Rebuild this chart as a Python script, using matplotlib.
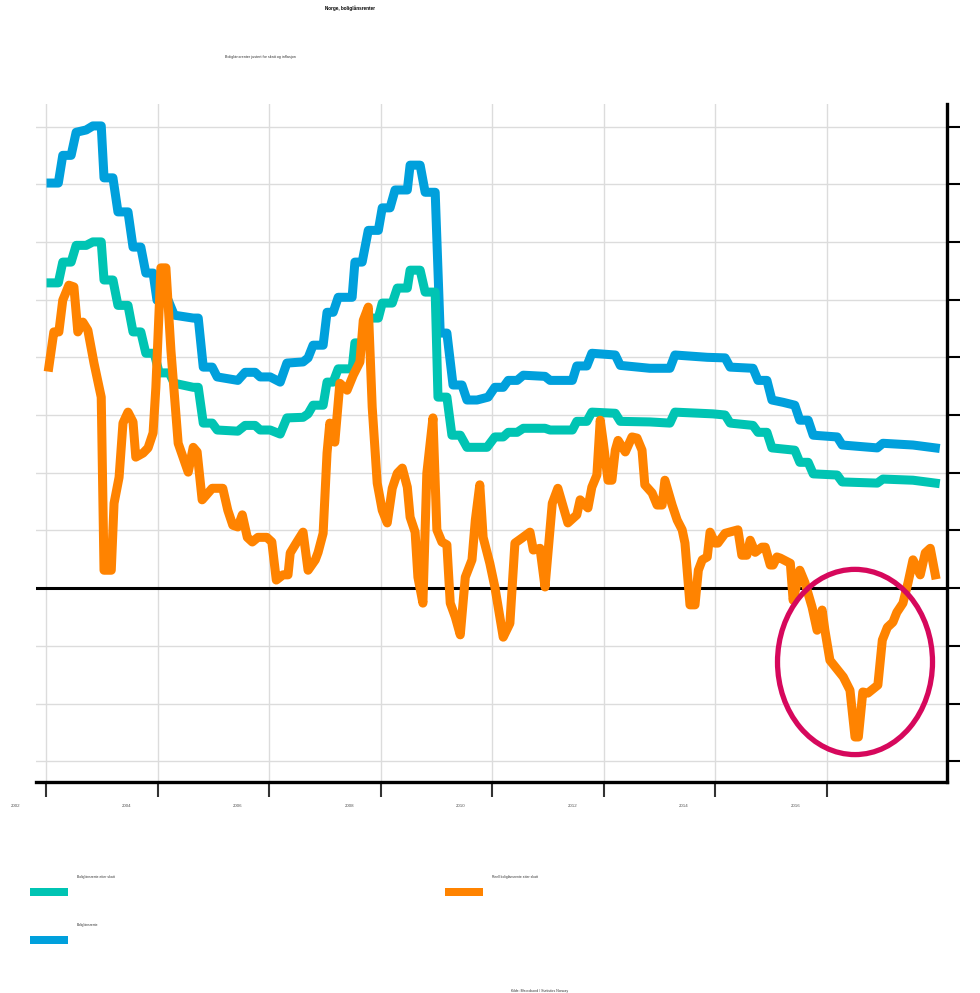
import numpy as np
import matplotlib
matplotlib.use("Agg")
from matplotlib import pyplot as plt
from matplotlib.patches import Ellipse, Rectangle
from matplotlib.transforms import ScaledTranslation

plt.rcParams['font.family'] = ['Liberation Sans', 'DejaVu Sans']

# Boliglånsrente (nominell), prosent
blue_t = [2002.09, 2002.22, 2002.30, 2002.45, 2002.54, 2002.72, 2002.84, 2002.99,
          2003.04, 2003.20, 2003.29, 2003.47, 2003.56, 2003.70, 2003.79, 2003.92,
          2003.99, 2004.19, 2004.30, 2004.64, 2004.73, 2004.82, 2004.98, 2005.07,
          2005.44, 2005.57, 2005.75, 2005.84, 2006.02, 2006.20, 2006.32, 2006.61,
          2006.70, 2006.79, 2006.97, 2007.04, 2007.15, 2007.24, 2007.49, 2007.54,
          2007.67, 2007.78, 2007.96, 2008.03, 2008.17, 2008.26, 2008.48, 2008.53,
          2008.71, 2008.80, 2008.98, 2009.07, 2009.19, 2009.30, 2009.46, 2009.55,
          2009.73, 2009.93, 2010.05, 2010.20, 2010.29, 2010.45, 2010.56, 2010.95,
          2011.04, 2011.44, 2011.52, 2011.70, 2011.79, 2012.21, 2012.30, 2012.83,
          2013.19, 2013.28, 2013.86, 2014.18, 2014.27, 2014.68, 2014.77, 2014.93,
          2015.02, 2015.22, 2015.43, 2015.52, 2015.67, 2015.76, 2016.19, 2016.28,
          2016.91, 2017.01, 2017.55, 2017.95]
blue_v = [7.02, 7.02, 7.50, 7.50, 7.90, 7.94, 8.01, 8.01,
          7.11, 7.11, 6.52, 6.52, 5.91, 5.91, 5.46, 5.46,
          4.99, 4.99, 4.73, 4.68, 4.68, 3.83, 3.83, 3.66,
          3.60, 3.74, 3.74, 3.66, 3.66, 3.57, 3.90, 3.92,
          3.99, 4.21, 4.21, 4.78, 4.78, 5.04, 5.04, 5.65,
          5.65, 6.20, 6.20, 6.59, 6.59, 6.90, 6.90, 7.33,
          7.33, 6.86, 6.86, 4.42, 4.42, 3.52, 3.52, 3.26,
          3.26, 3.31, 3.48, 3.48, 3.60, 3.60, 3.69, 3.67,
          3.60, 3.60, 3.85, 3.85, 4.07, 4.04, 3.86, 3.81,
          3.81, 4.04, 4.00, 3.99, 3.83, 3.81, 3.60, 3.60,
          3.26, 3.22, 3.17, 2.91, 2.91, 2.65, 2.62, 2.48,
          2.43, 2.51, 2.48, 2.43]

# Boliglånsrente etter skatt
teal_t = [2002.09, 2002.22, 2002.30, 2002.45, 2002.54, 2002.72, 2002.84, 2002.99,
          2003.04, 2003.20, 2003.29, 2003.47, 2003.56, 2003.70, 2003.79, 2003.94,
          2004.03, 2004.21, 2004.30, 2004.64, 2004.73, 2004.82, 2004.98, 2005.07,
          2005.44, 2005.57, 2005.75, 2005.84, 2006.02, 2006.20, 2006.32, 2006.61,
          2006.70, 2006.79, 2006.97, 2007.04, 2007.15, 2007.24, 2007.49, 2007.54,
          2007.69, 2007.78, 2007.96, 2008.03, 2008.21, 2008.30, 2008.48, 2008.53,
          2008.71, 2008.80, 2008.98, 2009.03, 2009.19, 2009.28, 2009.43, 2009.55,
          2009.91, 2010.05, 2010.20, 2010.29, 2010.45, 2010.56, 2010.95, 2011.04,
          2011.44, 2011.52, 2011.70, 2011.79, 2012.21, 2012.30, 2012.83, 2013.19,
          2013.28, 2013.96, 2014.18, 2014.27, 2014.68, 2014.77, 2014.93, 2015.02,
          2015.43, 2015.52, 2015.67, 2015.76, 2016.19, 2016.28, 2016.91, 2017.01,
          2017.55, 2017.95]
teal_v = [5.29, 5.29, 5.65, 5.65, 5.94, 5.94, 6.00, 6.00,
          5.34, 5.34, 4.90, 4.90, 4.44, 4.44, 4.07, 4.07,
          3.73, 3.73, 3.55, 3.48, 3.48, 2.86, 2.86, 2.74,
          2.72, 2.82, 2.82, 2.74, 2.74, 2.67, 2.95, 2.96,
          3.02, 3.17, 3.17, 3.57, 3.57, 3.80, 3.80, 4.25,
          4.25, 4.68, 4.68, 4.94, 4.94, 5.20, 5.20, 5.51,
          5.51, 5.13, 5.13, 3.31, 3.31, 2.65, 2.65, 2.44,
          2.44, 2.62, 2.62, 2.70, 2.70, 2.77, 2.77, 2.74,
          2.74, 2.89, 2.89, 3.05, 3.03, 2.89, 2.88, 2.86,
          3.05, 3.02, 3.00, 2.86, 2.82, 2.70, 2.70, 2.43,
          2.39, 2.18, 2.18, 1.98, 1.96, 1.84, 1.82, 1.89,
          1.87, 1.82]

# Reell boliglånsrente etter skatt
orange_t = [2002.05, 2002.14, 2002.23, 2002.30, 2002.41, 2002.50, 2002.57, 2002.66,
            2002.75, 2002.86, 2002.99, 2003.04, 2003.17, 2003.22, 2003.31, 2003.38,
            2003.47, 2003.56, 2003.61, 2003.74, 2003.83, 2003.92, 2003.97, 2004.06,
            2004.15, 2004.24, 2004.37, 2004.55, 2004.64, 2004.71, 2004.80, 2004.98,
            2005.17, 2005.26, 2005.35, 2005.44, 2005.52, 2005.61, 2005.70, 2005.80,
            2005.96, 2006.05, 2006.13, 2006.25, 2006.34, 2006.38, 2006.50, 2006.61,
            2006.70, 2006.83, 2006.88, 2006.97, 2007.04, 2007.09, 2007.18, 2007.27,
            2007.40, 2007.51, 2007.63, 2007.69, 2007.78, 2007.85, 2007.94, 2008.03,
            2008.12, 2008.21, 2008.30, 2008.39, 2008.48, 2008.53, 2008.62, 2008.67,
            2008.76, 2008.83, 2008.94, 2009.01, 2009.10, 2009.19, 2009.25, 2009.34,
            2009.43, 2009.52, 2009.64, 2009.70, 2009.78, 2009.84, 2009.96, 2010.05,
            2010.20, 2010.32, 2010.41, 2010.54, 2010.68, 2010.74, 2010.86, 2010.95,
            2011.08, 2011.18, 2011.36, 2011.52, 2011.58, 2011.72, 2011.79, 2011.88,
            2011.94, 2011.99, 2012.08, 2012.15, 2012.21, 2012.26, 2012.39, 2012.51,
            2012.60, 2012.69, 2012.74, 2012.87, 2012.96, 2013.05, 2013.10, 2013.23,
            2013.32, 2013.41, 2013.46, 2013.55, 2013.64, 2013.70, 2013.77, 2013.86,
            2013.91, 2014.00, 2014.05, 2014.18, 2014.41, 2014.48, 2014.57, 2014.63,
            2014.72, 2014.84, 2014.90, 2014.99, 2015.04, 2015.11, 2015.17, 2015.35,
            2015.40, 2015.52, 2015.61, 2015.74, 2015.83, 2015.92, 2015.97, 2016.06,
            2016.30, 2016.42, 2016.51, 2016.57, 2016.65, 2016.74, 2016.92, 2017.00,
            2017.09, 2017.19, 2017.26, 2017.37, 2017.46, 2017.55, 2017.68, 2017.77,
            2017.86, 2017.95]
orange_v = [3.83, 4.44, 4.44, 4.99, 5.25, 5.22, 4.44, 4.61,
            4.47, 3.90, 3.31, 0.31, 0.31, 1.47, 1.92, 2.86,
            3.05, 2.88, 2.27, 2.34, 2.43, 2.69, 3.48, 5.55,
            5.55, 4.12, 2.51, 2.01, 2.44, 2.36, 1.53, 1.73,
            1.73, 1.35, 1.09, 1.06, 1.27, 0.88, 0.80, 0.88,
            0.88, 0.80, 0.14, 0.23, 0.23, 0.61, 0.80, 0.97,
            0.31, 0.49, 0.62, 0.95, 2.34, 2.86, 2.53, 3.55,
            3.43, 3.69, 3.92, 4.64, 4.87, 3.14, 1.82, 1.35,
            1.13, 1.73, 1.99, 2.08, 1.75, 1.23, 0.97, 0.19,
            -0.26, 1.99, 2.95, 1.01, 0.80, 0.75, -0.26, -0.50,
            -0.81, 0.19, 0.49, 1.18, 1.79, 0.88, 0.43, 0.02,
            -0.85, -0.61, 0.78, 0.87, 0.97, 0.66, 0.69, 0.02,
            1.47, 1.73, 1.13, 1.27, 1.53, 1.39, 1.75, 1.96,
            2.91, 2.56, 1.87, 1.87, 2.39, 2.56, 2.36, 2.62,
            2.60, 2.39, 1.79, 1.65, 1.44, 1.44, 1.87, 1.44,
            1.18, 1.01, 0.78, -0.29, -0.29, 0.31, 0.49, 0.54,
            0.97, 0.78, 0.78, 0.95, 1.01, 0.57, 0.57, 0.83,
            0.62, 0.71, 0.71, 0.40, 0.40, 0.54, 0.52, 0.43,
            -0.21, 0.31, 0.10, -0.33, -0.73, -0.38, -0.73, -1.25,
            -1.54, -1.77, -2.58, -2.58, -1.80, -1.82, -1.68, -0.90,
            -0.68, -0.59, -0.42, -0.26, 0.09, 0.49, 0.23, 0.61,
            0.69, 0.23]

year_ticks = [2002, 2004, 2006, 2008, 2010, 2012, 2014, 2016]
y_ticks = list(range(-3, 9))

BLUE = '#00a0dc'
TEAL = '#00c4b3'
ORANGE = '#ff8300'
RING = '#d6085c'

fig = plt.figure(figsize=(9.8, 9.93), dpi=100)
ax = fig.add_axes([36 / 980, 1 - 782 / 993, 911 / 980, 678 / 993])

ax.set_xlim(2001.82, 2018.16)
ax.set_ylim(-3.36, 8.39)

# grid
for yv in y_ticks:
    ax.axhline(yv, color='#dcdcdc', lw=1.0, zorder=0)
for xv in year_ticks:
    ax.axvline(xv, color='#dcdcdc', lw=1.0, zorder=0)
ax.axhline(0, color='black', lw=2.2, zorder=1)

ax.plot(blue_t, blue_v, color=BLUE, lw=6.5, solid_joinstyle='round', zorder=3)
ax.plot(teal_t, teal_v, color=TEAL, lw=6.5, solid_joinstyle='round', zorder=4)
ax.plot(orange_t, orange_v, color=ORANGE, lw=6.5, solid_joinstyle='round', zorder=5)

ax.add_patch(Ellipse((2016.51, -1.28), 2.78, 3.21, fill=False,
                     edgecolor=RING, lw=3.8, zorder=6))

for side in ('left', 'top'):
    ax.spines[side].set_visible(False)
ax.spines['right'].set_linewidth(2.4)
ax.spines['bottom'].set_linewidth(2.4)

ax.yaxis.tick_right()
ax.set_yticks(y_ticks)
ax.tick_params(axis='y', which='both', direction='out', length=9.5, width=1.5,
               color='black', labelright=False, labelleft=False)

ax.set_xticks(year_ticks)
ax.set_xticklabels([str(y) for y in year_ticks], fontsize=3.2, color='#555555')
ax.tick_params(axis='x', direction='out', length=10.5, width=1.5, color='#333333', pad=5)
shift = ScaledTranslation(-0.31, 0, fig.dpi_scale_trans)
for lbl in ax.get_xticklabels():
    lbl.set_transform(lbl.get_transform() + shift)

# titles
fig.text(350 / 980, 1 - 8 / 993, 'Norge, boliglånsrenter', fontsize=3.3,
         fontweight='bold', ha='center', va='center')
fig.text(260 / 980, 1 - 57 / 993, 'Boliglånsrenter justert for skatt og inflasjon',
         fontsize=2.7, ha='center', va='center', color='#333333')

# legend
legend_items = [
    (30, 888, TEAL, 'Boliglånsrente etter skatt'),
    (30, 936, BLUE, 'Boliglånsrente'),
    (445, 888, ORANGE, 'Reell boliglånsrente etter skatt'),
]
for lx, ly, col, text in legend_items:
    fig.add_artist(Rectangle((lx / 980, 1 - (ly + 8) / 993), 38 / 980, 8 / 993,
                             transform=fig.transFigure, facecolor=col, edgecolor='none'))
    fig.text((lx + 47) / 980, 1 - (ly - 11) / 993, text, fontsize=2.4,
             ha='left', va='center', color='#333333')

fig.text(540 / 980, 1 - 991 / 993, 'Kilde: Macrobond / Statistics Norway',
         fontsize=2.55, ha='center', va='center', color='#333333')

fig.savefig('out.png', dpi=100)
